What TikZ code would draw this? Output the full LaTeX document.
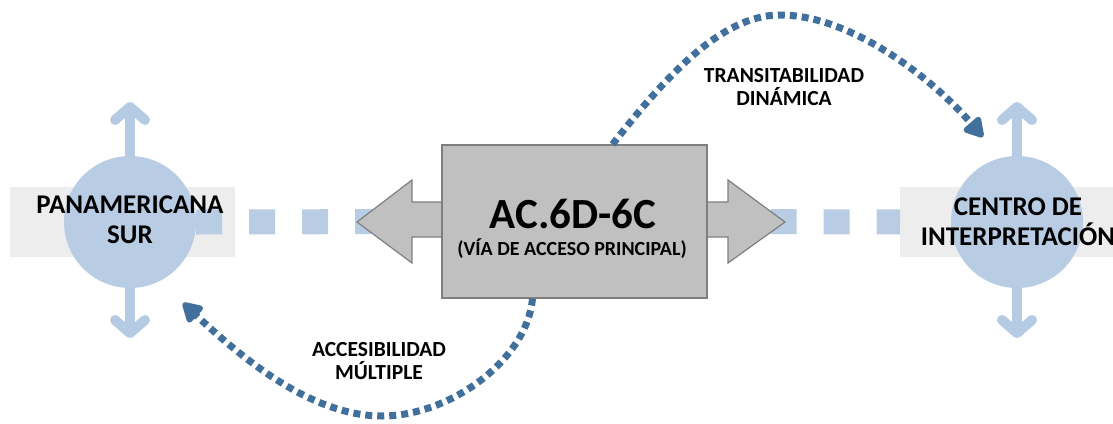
\documentclass[tikz,border=0pt]{standalone}
\usepackage{fontspec}
\setmainfont{Carlito}
\usetikzlibrary{arrows.meta,backgrounds}
\definecolor{lblue}{HTML}{B8CCE4}
\definecolor{abl}{HTML}{B4CBE3}
\definecolor{dblue}{HTML}{41709C}
\definecolor{bandgray}{HTML}{EDEDED}
\definecolor{boxg}{HTML}{C0C0C0}
\definecolor{boxb}{HTML}{7F7F7F}
\begin{document}
\begin{tikzpicture}[x=1pt,y=-1pt,
  hub/.style={circle,fill=lblue,minimum size=132pt,inner sep=0pt},
  vbar/.style={draw=abl,line width=10pt,-{Straight Barb[length=13pt,width=30pt,round]}},
  road/.style={draw=lblue,line width=25pt,dash pattern=on 26pt off 27pt},
  mainbox/.style={rectangle,fill=boxg,draw=boxb,line width=1.2pt,minimum width=265pt,minimum height=153pt,inner sep=0pt},
  dotline/.style={draw=dblue,line width=7pt,dash pattern=on 7pt off 5pt,-{Triangle[length=22pt,width=24pt,round]}},
  hubtxt/.style={font=\bfseries\fontsize{27}{30}\selectfont,align=center,inner sep=0pt},
  lbl/.style={font=\bfseries\fontsize{21.5}{23}\selectfont,align=center,inner sep=0pt}
]
\useasboundingbox (0,0) rectangle (1113,423);
\clip (0,0) rectangle (1113,423);
% central arrow and box
\fill[boxg,draw=boxb,line width=1.2pt] (357,222) -- (412,180) -- (412,202) -- (728,202) -- (728,180) -- (785,222) -- (728,263) -- (728,237) -- (412,237) -- (412,263) -- cycle;
\node[mainbox] (box) at (574.5,221.5) {};
\node[font=\bfseries\fontsize{43}{45}\selectfont,inner sep=0pt] (t1) at (573,214) {AC.6D-6C};
\node[font=\bfseries\fontsize{20}{22}\selectfont,inner sep=0pt] (t2) at (572,249) {(VÍA DE ACCESO PRINCIPAL)};
% hubs
\node[hub] (lc) at (130,222) {};
\node[hub] (rc) at (1017,222) {};
\coordinate (lt) at (130,102);
\coordinate (lb) at (130,338);
\coordinate (rt) at (1017,102);
\coordinate (rb) at (1017,338);
\draw[vbar] (lc.north) -- (lt);
\draw[vbar] (lc.south) -- (lb);
\draw[vbar] (rc.north) -- (rt);
\draw[vbar] (rc.south) -- (rb);
\coordinate (re) at (900,222);
\begin{pgfonlayer}{background}
\fill[bandgray] (10,187) rectangle (235,257);
\fill[bandgray] (900,187) rectangle (1113,257);
\draw[road] (lc.east) -- (box.west);
\draw[road,dash phase=43pt] (box.east) -- (re);
\end{pgfonlayer}
\node[hubtxt] (ln) at (130,220) {PANAMERICANA\\SUR};
\node[hubtxt] (rn) at (1018,222) {CENTRO DE\\INTERPRETACIÓN};
% dotted connectors
\coordinate (ue) at (983,137);
\coordinate (le) at (183,303);
\draw[dotline] ([xshift=38pt]box.north) .. controls (663,80) and (720,15) .. (780,15) .. controls (850,15) and (931,77) .. (ue);
\draw[dotline] ([xshift=-42pt]box.south) .. controls (527,360) and (450,416) .. (382,416) .. controls (312,416) and (244,360) .. (le);
\node[lbl] (la) at (784,87) {TRANSITABILIDAD\\DINÁMICA};
\node[lbl] (lm) at (379,361) {ACCESIBILIDAD\\MÚLTIPLE};
\end{tikzpicture}
\end{document}
